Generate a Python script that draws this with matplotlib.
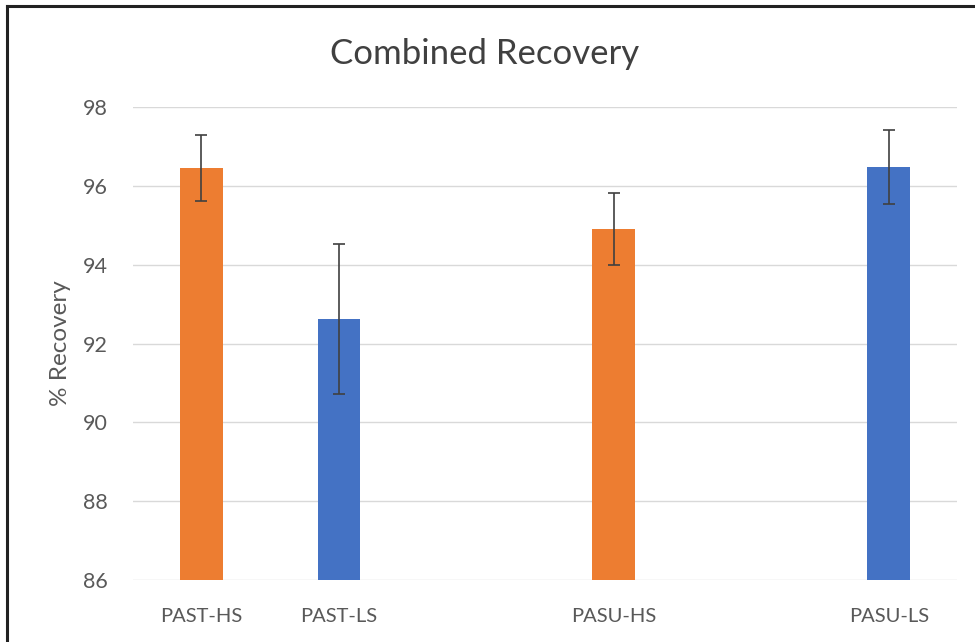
import matplotlib.pyplot as plt
from matplotlib.lines import Line2D

plt.rcParams['font.family'] = ['Lato', 'DejaVu Sans']

# data
labels = ["PAST-HS", "PAST-LS", "PASU-HS", "PASU-LS"]
slots = [0, 1, 3, 5]          # category slots (2 and 4 are empty)
recovery = [96.45, 92.62, 94.90, 96.48]
err = [0.83, 1.90, 0.92, 0.94]
colors = ["#ED7D31", "#4472C4", "#ED7D31", "#4472C4"]
yticks = [86, 88, 90, 92, 94, 96, 98]

fig = plt.figure(figsize=(9.75, 6.42), dpi=100)
ax = fig.add_axes([0.136, 0.0966, 0.846, 0.7367])

ax.bar(slots, [v - 86 for v in recovery], bottom=86, width=0.31, color=colors, zorder=3)
ax.errorbar(slots, recovery, yerr=err, fmt='none', ecolor='#404040',
            elinewidth=1.2, capsize=4.5, capthick=1.2, zorder=4)

ax.set_xlim(-0.5, 5.5)
ax.set_ylim(86, 98)
ax.set_yticks(yticks)
ax.set_xticks(slots)
ax.set_xticklabels(labels)
ax.tick_params(length=0, labelcolor='#595959')
ax.tick_params(axis='x', labelsize=14.5, pad=20)
ax.tick_params(axis='y', labelsize=15.5, pad=18)
ax.yaxis.grid(True, color='#D9D9D9', linewidth=1, zorder=0)
for s in ax.spines.values():
    s.set_visible(False)

ax.set_ylabel("% Recovery", fontsize=17.5, color='#595959', labelpad=8)
fig.text(0.497, 0.916, "Combined Recovery", ha='center', va='center',
         fontsize=25, color='#404040')

# outer frame of the figure box (left and top edges visible)
fig.add_artist(Line2D([7 / 975, 7 / 975], [0, 1 - 6 / 642], color='#222222', lw=2.2,
                      transform=fig.transFigure))
fig.add_artist(Line2D([7 / 975, 1], [1 - 6 / 642, 1 - 6 / 642], color='#222222', lw=2.2,
                      transform=fig.transFigure))

fig.savefig("out.png", dpi=100)
